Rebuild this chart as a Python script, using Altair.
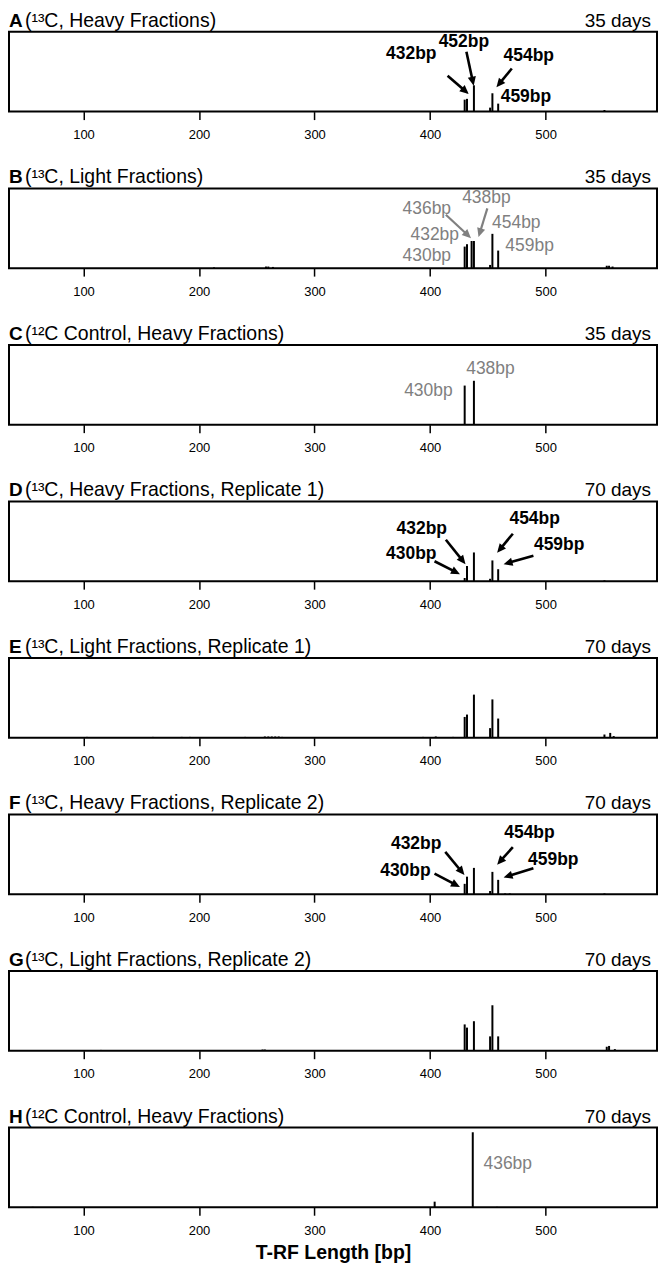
import math
import altair as alt
import pandas as pd

# ---------------- data ----------------
letters = ["A", "B", "C", "D", "E", "F", "G", "H"]
titles = [
    "(¹³C, Heavy Fractions)",
    "(¹³C, Light Fractions)",
    "(¹²C Control,  Heavy Fractions)",
    "(¹³C, Heavy Fractions, Replicate 1)",
    "(¹³C, Light Fractions, Replicate 1)",
    "(¹³C, Heavy Fractions, Replicate 2)",
    "(¹³C, Light Fractions, Replicate 2)",
    "(¹²C Control, Heavy Fractions)",
]
days = ["35 days", "35 days", "35 days", "70 days", "70 days", "70 days", "70 days", "70 days"]

tick_values = [100, 200, 300, 400, 500]
x_title = "T-RF Length [bp]"

# peaks: T-RF length (bp) and relative height (fraction of panel height)
A_bp = [430, 432, 438, 452, 454, 459, 551]
A_h = [0.15, 0.16, 0.33, 0.05, 0.23, 0.10, 0.02]
B_bp = [213, 258, 260, 264, 430, 432, 436, 438, 452, 454, 459, 553, 555, 558]
B_h = [0.01, 0.02, 0.02, 0.015, 0.27, 0.30, 0.34, 0.34, 0.04, 0.43, 0.22, 0.03, 0.03, 0.02]
C_bp = [430, 438]
C_h = [0.49, 0.55]
D_bp = [430, 432, 438, 452, 454, 459, 551]
D_h = [0.04, 0.19, 0.36, 0.03, 0.26, 0.15, 0.01]
E_bp = [103, 160, 185, 192, 240, 257, 260, 263, 266, 269, 272, 394, 405, 420,
        430, 432, 438, 452, 454, 459, 551, 556, 559]
E_h = [0.01, 0.01, 0.01, 0.01, 0.01, 0.015, 0.015, 0.015, 0.015, 0.015, 0.01, 0.01, 0.015, 0.01,
       0.26, 0.29, 0.54, 0.12, 0.48, 0.24, 0.04, 0.06, 0.02]
F_bp = [430, 432, 438, 452, 454, 459, 465, 469, 551]
F_h = [0.13, 0.22, 0.33, 0.04, 0.28, 0.18, 0.01, 0.01, 0.01]
G_bp = [115, 255, 257, 430, 432, 438, 452, 454, 459, 553, 555, 560]
G_h = [0.01, 0.015, 0.015, 0.33, 0.29, 0.37, 0.18, 0.57, 0.18, 0.05, 0.06, 0.02]
H_bp = [56, 404, 437, 458]
H_h = [0.005, 0.07, 0.94, 0.005]

peak_bp = [A_bp, B_bp, C_bp, D_bp, E_bp, F_bp, G_bp, H_bp]
peak_h = [A_h, B_h, C_h, D_h, E_h, F_h, G_h, H_h]

# annotation labels (text, position in bp / relative height)
label_text = [
    ["432bp", "452bp", "454bp", "459bp"],
    ["436bp", "438bp", "454bp", "432bp", "459bp", "430bp"],
    ["430bp", "438bp"],
    ["432bp", "430bp", "454bp", "459bp"],
    [],
    ["432bp", "430bp", "454bp", "459bp"],
    [],
    ["436bp"],
]
label_bp = [
    [383.8, 429.3, 485.5, 483.0],
    [397.2, 448.8, 474.7, 404.1, 486.2, 397.2],
    [398.6, 452.3],
    [392.9, 383.8, 490.6, 511.8],
    [],
    [388.0, 378.7, 486.1, 506.7],
    [],
    [467.3],
]
label_y = [
    [0.72, 0.87, 0.70, 0.18],
    [0.74, 0.875, 0.5625, 0.42, 0.28, 0.15],
    [0.425, 0.70],
    [0.66, 0.34, 0.78, 0.45],
    [],
    [0.6325, 0.29, 0.77, 0.425],
    [],
    [0.54],
]
label_kind = ["bold", "gray", "gray", "bold", "bold", "bold", "bold", "gray"]

# arrows (start -> tip), in bp / relative height
arrow_x1 = [[415.2, 431.5, 470.8], [413.7, 449.6], [], [413.7, 403.9, 471.7, 489.5], [],
            [413.2, 403.9, 471.7, 489.5], [], []]
arrow_y1 = [[0.45, 0.75, 0.54], [0.67, 0.75], [], [0.52, 0.25, 0.595, 0.32], [],
            [0.53, 0.2575, 0.59, 0.325], [], []]
arrow_x2 = [[433.5, 437.8, 457.5], [435.5, 442.0], [], [430.7, 425.9, 458.1, 463.7], [],
            [429.8, 425.9, 458.1, 463.7], [], []]
arrow_y2 = [[0.22, 0.325, 0.305], [0.375, 0.39], [], [0.2125, 0.0875, 0.3575, 0.2125], [],
            [0.24, 0.09, 0.37, 0.21], [], []]

# ---------------- layout ----------------
W = 650
H = 80
XMIN, XMAX = 35.5, 596.5
XS = W / (XMAX - XMIN)
FONT = "Liberation Sans"
GRAY = "#808080"
HEAD = "M0,0L-1.1,2.4L1.1,2.4Z"

xscale = alt.Scale(domain=[XMIN, XMAX], nice=False, zero=False)
yscale = alt.Scale(domain=[0, 1], nice=False, zero=False)


def panel(i):
    last = i == len(letters) - 1
    ax = alt.Axis(values=tick_values, title=x_title if last else None, grid=False)

    def X(f):
        return alt.X(f + ":Q", scale=xscale, axis=ax)

    def Y(f):
        return alt.Y(f + ":Q", scale=yscale, axis=None)

    bars = pd.DataFrame({"bp": peak_bp[i], "h": peak_h[i]})
    bars["zero"] = 0.0
    layers = [
        alt.Chart(bars).mark_rule(color="black", strokeWidth=2).encode(
            x=X("bp"), y=Y("h"), y2="zero:Q")
    ]

    kind = label_kind[i]
    color = "black" if kind == "bold" else GRAY
    weight = "bold" if kind == "bold" else "normal"

    if label_text[i]:
        lab = pd.DataFrame({"bp": label_bp[i], "h": label_y[i], "t": label_text[i]})
        layers.append(
            alt.Chart(lab).mark_text(fontSize=17.5, fontWeight=weight, color=color,
                                     align="center", baseline="middle", font=FONT).encode(
                x=X("bp"), y=Y("h"), text="t:N"))

    if arrow_x1[i]:
        rows = []
        for x1, y1, x2, y2 in zip(arrow_x1[i], arrow_y1[i], arrow_x2[i], arrow_y2[i]):
            dx = (x2 - x1) * XS
            dy = -(y2 - y1) * H
            L = math.hypot(dx, dy)
            f = 5.0 / L
            ang = math.degrees(math.atan2(dx, -dy)) % 360
            rows.append({"bp": x1, "h": y1,
                         "bp2": x2 - (x2 - x1) * f, "h2": y2 - (y2 - y1) * f,
                         "tx": x2, "ty": y2, "ang": ang})
        arr = pd.DataFrame(rows)
        sw = 2.6 if kind == "bold" else 2.2
        layers.append(
            alt.Chart(arr).mark_rule(color=color, strokeWidth=sw).encode(
                x=X("bp"), y=Y("h"), x2="bp2:Q", y2="h2:Q"))
        layers.append(
            alt.Chart(arr).mark_point(shape=HEAD, filled=True, size=56, color=color,
                                      opacity=1, strokeWidth=0).encode(
                x=X("tx"), y=Y("ty"), angle=alt.Angle("ang:Q", scale=None)))

    head = pd.DataFrame({"letter": [letters[i]], "title": [titles[i]], "days": [days[i]]})
    layers.append(
        alt.Chart(head).mark_text(align="left", baseline="alphabetic", fontSize=19,
                                  fontWeight="bold", color="black", font=FONT).encode(
            x=alt.value(0), y=alt.value(-5), text="letter:N"))
    layers.append(
        alt.Chart(head).mark_text(align="left", baseline="alphabetic", fontSize=19.5,
                                  color="black", font=FONT).encode(
            x=alt.value(16), y=alt.value(-5), text="title:N"))
    layers.append(
        alt.Chart(head).mark_text(align="right", baseline="alphabetic", fontSize=19,
                                  color="black", font=FONT).encode(
            x=alt.value(W - 6), y=alt.value(-5), text="days:N"))

    return alt.layer(*layers).properties(width=W, height=H)


panels = [panel(i) for i in range(len(letters))]

chart = (
    alt.vconcat(*panels, spacing=77, bounds="flush")
    .properties(padding=0, background="white")
    .configure(font=FONT)
    .configure_view(stroke="black", strokeWidth=2)
    .configure_axis(grid=False, domain=False, tickColor="black", tickWidth=1.5,
                    tickSize=8, labelFontSize=13, labelColor="black", labelPadding=9,
                    labelFont=FONT, titleFont=FONT, titleFontSize=19.5,
                    titleFontWeight="bold", titleColor="black", titlePadding=6)
)

chart.save("out.html", embed_options={"renderer": "svg", "actions": False})
